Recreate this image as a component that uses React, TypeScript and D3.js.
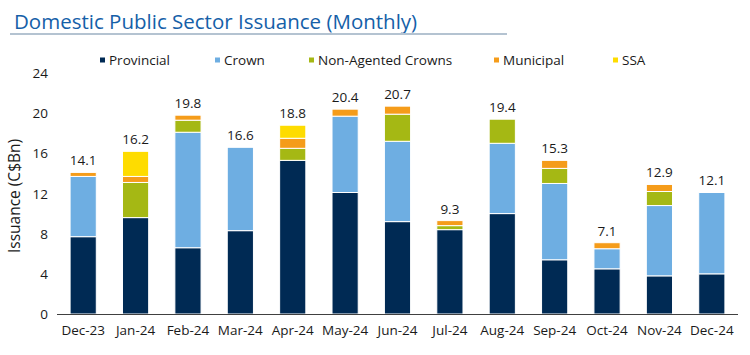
import React from "react";
import * as d3 from "d3";

const months = ["Dec-23","Jan-24","Feb-24","Mar-24","Apr-24","May-24","Jun-24","Jul-24","Aug-24","Sep-24","Oct-24","Nov-24","Dec-24"];
const provincial = [7.7, 9.6, 6.6, 8.3, 15.3, 12.1, 9.2, 8.4, 10.0, 5.4, 4.5, 3.8, 4.0];
const crown = [6.0, 0, 11.5, 8.3, 0, 7.6, 8.0, 0, 7.0, 7.6, 2.0, 7.0, 8.1];
const nonAgented = [0, 3.5, 1.2, 0, 1.2, 0, 2.7, 0.4, 2.4, 1.5, 0, 1.4, 0];
const municipal = [0.4, 0.6, 0.5, 0, 1.0, 0.7, 0.8, 0.5, 0, 0.8, 0.6, 0.7, 0];
const ssa = [0, 2.5, 0, 0, 1.3, 0, 0, 0, 0, 0, 0, 0, 0];
const totals = ["14.1","16.2","19.8","16.6","18.8","20.4","20.7","9.3","19.4","15.3","7.1","12.9","12.1"];
const yTicks = [0, 4, 8, 12, 16, 20, 24];

const seriesNames = ["Provincial", "Crown", "Non-Agented Crowns", "Municipal", "SSA"];
const seriesData = [provincial, crown, nonAgented, municipal, ssa];
const colors = ["#002a54", "#6eaee2", "#a5b814", "#f59c1a", "#fedc00"];

const FONT = "'Open Sans', 'Noto Sans', sans-serif";

export default function App() {
  const W = 750, H = 355;
  const x = d3.scaleBand().domain(months).range([57, 738]).paddingInner(0.5).paddingOuter(0.25);
  const y = d3.scaleLinear().domain([0, 24]).range([314, 73]);

  const rows = months.map((m, i) => {
    const r: any = { month: m };
    seriesNames.forEach((s, k) => (r[s] = seriesData[k][i]));
    return r;
  });
  const stacked = d3.stack<any>().keys(seriesNames)(rows);

  const legendX = [100, 215, 309, 494, 613];

  return (
    <svg width={W} height={H} style={{ position: "absolute", left: 0, top: 0, background: "#fff" }} fontFamily={FONT}>
      <text x={14} y={29} fontSize={20.5} fill="#1560a8">Domestic Public Sector Issuance (Monthly)</text>
      <line x1={10} x2={507} y1={34} y2={34} stroke="#b4c3d1" strokeWidth={2} />

      {seriesNames.map((s, k) => (
        <g key={s}>
          <rect x={legendX[k]} y={57.5} width={5} height={5} fill={colors[k]} />
          <text x={legendX[k] + 9} y={64.5} fontSize={13.5} fill="#1a1a1a">{s}</text>
        </g>
      ))}

      {yTicks.map((t) => (
        <text key={t} x={48} y={y(t) + 5} fontSize={13.5} textAnchor="end" fill="#1a1a1a">{t}</text>
      ))}
      <text transform={`translate(20,${196}) rotate(-90)`} textAnchor="middle" fontSize={15.5} fill="#1a1a1a">Issuance (C$Bn)</text>

      {stacked.map((layer, k) => (
        <g key={layer.key} fill={colors[k]}>
          {layer.map((d, i) =>
            d[1] - d[0] > 0 ? (
              <rect key={i} x={x(months[i])!} width={x.bandwidth()} y={y(d[1])} height={y(d[0]) - y(d[1])} stroke="#fff" strokeWidth={1} />
            ) : null
          )}
        </g>
      ))}

      <line x1={57} x2={738} y1={314.5} y2={314.5} stroke="#404040" strokeWidth={1} />

      {months.map((m, i) => {
        const top = stacked[stacked.length - 1][i][1];
        return (
          <g key={m}>
            <text x={x(m)! + x.bandwidth() / 2} y={335} fontSize={13.5} textAnchor="middle" fill="#1a1a1a">{m}</text>
            <text x={x(m)! + x.bandwidth() / 2} y={y(top) - 7} fontSize={13.5} textAnchor="middle" fill="#1a1a1a">{totals[i]}</text>
          </g>
        );
      })}
    </svg>
  );
}
